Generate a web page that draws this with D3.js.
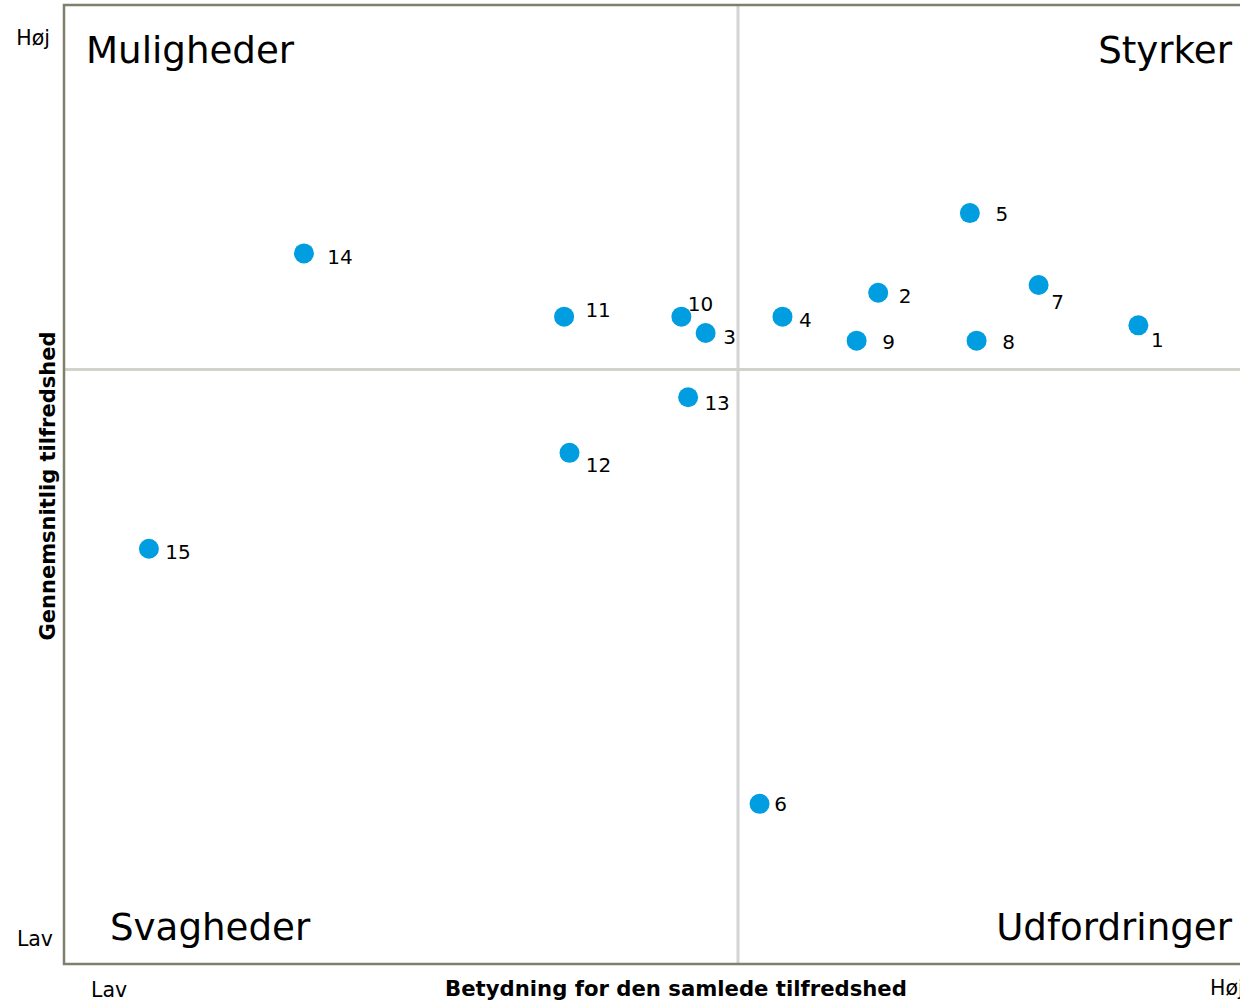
<!DOCTYPE html>
<html>
<head>
<meta charset="utf-8">
<script src="https://cdn.jsdelivr.net/npm/d3@7"></script>
<style>
  body { margin: 0; background: #fff; }
  svg { display: block; font-family: "DejaVu Sans", Verdana, sans-serif; }
</style>
</head>
<body>
<div id="chart"></div>
<script>
// point ids and values (importance on x, satisfaction on y, 0-100 scale)
const ids = ['1', '2', '3', '4', '5', '6', '7', '8', '9', '10', '11', '12', '13', '14', '15'];
const importance = [79.7, 60.4, 47.6, 53.3, 67.2, 51.6, 72.3, 67.7, 58.8, 45.8, 37.1, 37.5, 46.3, 17.8, 6.3];
const satisfaction = [66.6, 70.0, 65.8, 67.5, 78.3, 16.7, 70.8, 65.0, 65.0, 67.5, 67.5, 53.3, 59.1, 74.1, 43.3];
const xSplit = 50;
const ySplit = 62.0;
const quadrants = ['Muligheder', 'Styrker', 'Svagheder', 'Udfordringer'];
const levels = ['Lav', 'Høj'];

// label offsets (px) from the dot centre, to keep labels clear of each other
const labelOffset = [[19, 15], [27, 3], [24, 4], [23, 3], [32, 1], [21, 0], [19, 17], [32, 1],
  [32, 1], [19, -13], [34, -7], [29, 12], [29, 6], [36, 4], [29, 3]];

const width = 1240, height = 1001;
const plot = { left: 64, top: 5, bottom: 964, right: 1412 };

const svg = d3.select('#chart').append('svg')
  .attr('width', width)
  .attr('height', height);

const x = d3.scaleLinear().domain([0, 100]).range([plot.left, plot.right]);
const y = d3.scaleLinear().domain([0, 100]).range([plot.bottom, plot.top]);

// quadrant dividers
svg.append('line')
  .attr('x1', x(xSplit)).attr('x2', x(xSplit))
  .attr('y1', plot.top).attr('y2', plot.bottom)
  .attr('stroke', '#d4d4d4').attr('stroke-width', 3);
svg.append('line')
  .attr('x1', plot.left).attr('x2', plot.right)
  .attr('y1', y(ySplit)).attr('y2', y(ySplit))
  .attr('stroke', '#d2d2ca').attr('stroke-width', 3);

// frame
svg.append('rect')
  .attr('x', plot.left).attr('y', plot.top)
  .attr('width', plot.right - plot.left).attr('height', plot.bottom - plot.top)
  .attr('fill', 'none')
  .attr('stroke', '#7f7f6c')
  .attr('stroke-width', 2.5);

// quadrant names
const qText = svg.append('g').attr('font-size', 37.2).attr('fill', '#000');
qText.append('text').attr('x', 86).attr('y', 63).text(quadrants[0]);
qText.append('text').attr('x', 1232).attr('y', 63).attr('text-anchor', 'end').text(quadrants[1]);
qText.append('text').attr('x', 110).attr('y', 940).text(quadrants[2]);
qText.append('text').attr('x', 1232).attr('y', 940).attr('text-anchor', 'end').text(quadrants[3]);

// axis ends
const ends = svg.append('g').attr('font-size', 20.5).attr('fill', '#000');
ends.append('text').attr('x', 50).attr('y', 45).attr('text-anchor', 'end').text(levels[1]);
ends.append('text').attr('x', 53).attr('y', 946).attr('text-anchor', 'end').text(levels[0]);
ends.append('text').attr('x', 91).attr('y', 997).text(levels[0]);
ends.append('text').attr('x', 1210).attr('y', 995).text(levels[1]);

// axis titles
svg.append('text')
  .attr('x', 676).attr('y', 996)
  .attr('text-anchor', 'middle')
  .attr('font-size', 21.2).attr('font-weight', 'bold')
  .text('Betydning for den samlede tilfredshed');
svg.append('text')
  .attr('transform', `translate(${55},${486}) rotate(-90)`)
  .attr('text-anchor', 'middle')
  .attr('font-size', 21).attr('font-weight', 'bold')
  .text('Gennemsnitlig tilfredshed');

const data = ids.map((id, i) => ({ id, x: importance[i], y: satisfaction[i], off: labelOffset[i] }));

const pts = svg.append('g').selectAll('g.pt')
  .data(data)
  .enter()
  .append('g')
  .attr('class', 'pt');
pts.append('circle')
  .attr('cx', d => x(d.x))
  .attr('cy', d => y(d.y))
  .attr('r', 10)
  .attr('fill', '#009ee0');
pts.append('text')
  .attr('x', d => x(d.x) + d.off[0])
  .attr('y', d => y(d.y) + d.off[1] + 7)
  .attr('text-anchor', 'middle')
  .attr('font-size', 20)
  .attr('fill', '#000')
  .text(d => d.id);
</script>
</body>
</html>
